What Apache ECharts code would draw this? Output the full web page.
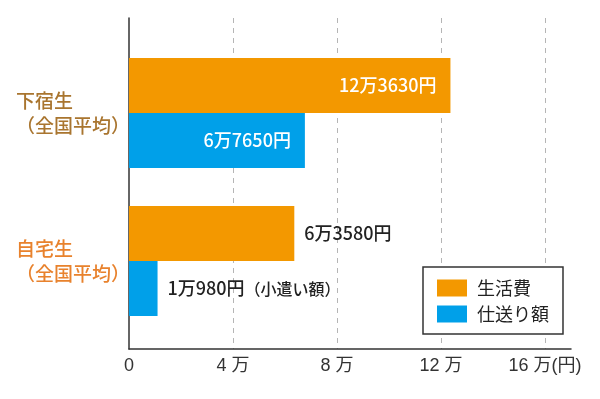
<!DOCTYPE html>
<html>
<head>
<meta charset="utf-8">
<script src="https://cdn.jsdelivr.net/npm/echarts@6/dist/echarts.min.js"></script>
<style>
  html, body { margin: 0; padding: 0; background: #fff; }
  #chart { width: 600px; height: 399px; }
</style>
</head>
<body>
<div id="chart"></div>
<script>
// data
var categories = ['下宿生', '自宅生'];
var categoryNotes = ['（全国平均）', '（全国平均）'];
var seriesNames = ['生活費', '仕送り額'];
var livingCost = [123630, 63580];
var allowance = [67650, 10980];
var allowanceNotes = ['', '（小遣い額）'];
var xTicks = [0, 40000, 80000, 120000, 160000];

function yen(v) {
    var man = Math.floor(v / 10000);
    return man + '万' + (v % 10000) + '円';
}

// first row labels sit inside the bar, second row outside
function makeData(values, notes) {
    return values.map(function (v, i) {
        var inside = i === 0;
        return {
            value: v,
            label: {
                show: true,
                position: inside ? 'insideRight' : 'right',
                distance: inside ? 14 : 10,
                color: inside ? '#fff' : '#222',
                formatter: function () {
                    var note = notes ? notes[i] : '';
                    return note ? '{v|' + yen(v) + '}{n|' + note + '}' : '{v|' + yen(v) + '}';
                },
                rich: {
                    v: { fontSize: 18, fontWeight: 500, fontFamily: 'Noto Sans CJK JP', color: inside ? '#fff' : '#222' },
                    n: { fontSize: 16, fontWeight: 500, fontFamily: 'Noto Sans CJK JP', color: '#222' }
                }
            }
        };
    });
}

var myChart = echarts.init(document.getElementById('chart'));

var option = {
    animation: false,
    backgroundColor: '#fff',
    textStyle: { fontFamily: 'Noto Sans CJK JP' },
    color: ['#f39800', '#00a0e9'],
    grid: [
        { left: 129, right: 29, top: 39, bottom: 64 },
        { left: 129, right: 29, top: 18, bottom: 50 }
    ],
    legend: {
        orient: 'vertical',
        left: 423,
        top: 267,
        padding: [12, 14, 11, 14],
        itemWidth: 30,
        itemHeight: 17,
        itemGap: 8,
        icon: 'rect',
        borderColor: '#333',
        borderWidth: 1.5,
        backgroundColor: '#fff',
        data: seriesNames,
        textStyle: { fontSize: 18, color: '#222', padding: [0, 0, 0, 5] }
    },
    xAxis: [
        { gridIndex: 0, type: 'value', min: 0, max: 170000, show: false },
        {
            gridIndex: 1,
            type: 'value',
            min: 0,
            max: 170000,
            interval: 40000,
            axisLine: { show: true, lineStyle: { color: '#333', width: 1.5 } },
            axisTick: { show: false },
            axisLabel: {
                margin: 8,
                fontSize: 18,
                color: '#333',
                fontFamily: 'Liberation Sans, Noto Sans CJK JP',
                formatter: function (v) {
                    if (xTicks.indexOf(v) < 0) return '';
                    if (v === 0) return '0';
                    var s = (v / 10000) + ' 万';
                    if (v === xTicks[xTicks.length - 1]) s += '(円)';
                    return s;
                }
            },
            splitLine: {
                show: true,
                showMinLine: false,
                showMaxLine: false,
                lineStyle: { color: '#b5b5b5', type: [5, 5], width: 1 }
            }
        }
    ],
    yAxis: [
        {
            gridIndex: 0,
            type: 'category',
            inverse: true,
            data: categories,
            axisLine: { show: false },
            axisTick: { show: false },
            axisLabel: {
                align: 'left',
                margin: 113,
                formatter: function (v, i) {
                    var k = i === 0 ? 'a' : 'b';
                    return '{' + k + '|' + v + '}\n{' + k + '|' + categoryNotes[i] + '}';
                },
                rich: {
                    a: { color: '#a9752f', fontSize: 19, fontWeight: 500, lineHeight: 25, fontFamily: 'Noto Sans CJK JP' },
                    b: { color: '#e8822d', fontSize: 19, fontWeight: 500, lineHeight: 25, fontFamily: 'Noto Sans CJK JP' }
                }
            }
        },
        {
            gridIndex: 1,
            type: 'category',
            data: categories,
            axisLine: { show: true, lineStyle: { color: '#333', width: 1.5 } },
            axisTick: { show: false },
            axisLabel: { show: false },
            splitLine: { show: false }
        }
    ],
    series: [
        {
            name: seriesNames[0],
            type: 'bar',
            xAxisIndex: 0,
            yAxisIndex: 0,
            barWidth: 55,
            barGap: '0%',
            data: makeData(livingCost, null)
        },
        {
            name: seriesNames[1],
            type: 'bar',
            xAxisIndex: 0,
            yAxisIndex: 0,
            barWidth: 55,
            barGap: '0%',
            data: makeData(allowance, allowanceNotes)
        }
    ]
};

myChart.setOption(option);
</script>
</body>
</html>
